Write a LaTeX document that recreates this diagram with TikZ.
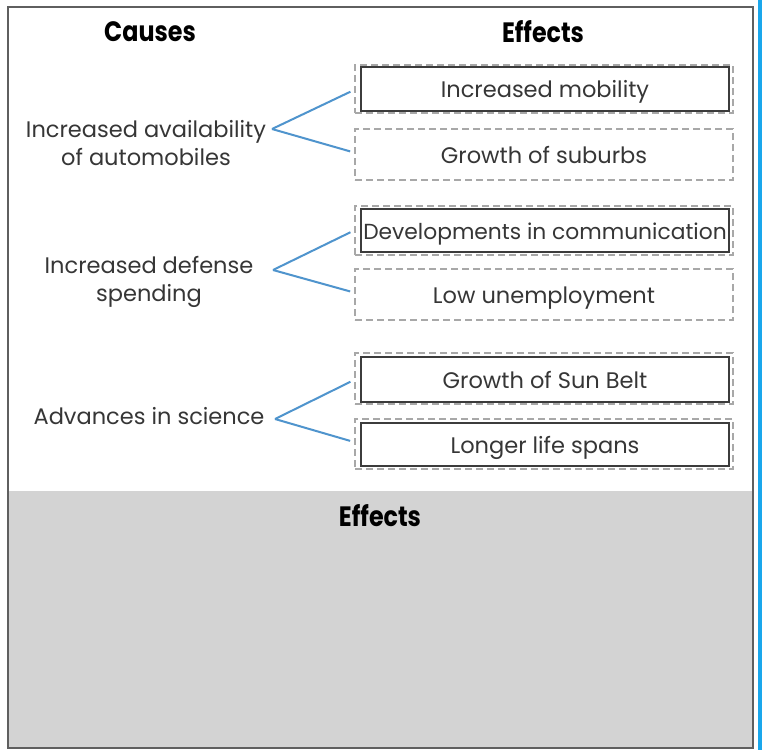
\documentclass[tikz,border=0pt]{standalone}
\usepackage{fontspec}
\setmainfont{Poppins}
\newfontfamily\headfont[FakeStretch=0.85]{Poppins}
\definecolor{framegray}{HTML}{5F5F5F}
\definecolor{dashgray}{HTML}{A8A8A8}
\definecolor{boxline}{HTML}{3C3C3C}
\definecolor{conn}{HTML}{4F94CD}
\definecolor{txt}{HTML}{363636}
\definecolor{panelgray}{HTML}{D3D3D3}
\definecolor{edgeblue}{HTML}{1AA7EC}
\begin{document}
\begin{tikzpicture}[x=1pt,y=-1pt,
  body/.style={font=\fontsize{22.5}{28}\selectfont, text=txt},
  head/.style={font=\headfont\bfseries\fontsize{28}{30}\selectfont, text=black},
  dbox/.style={draw=dashgray, dash pattern=on 7pt off 4pt, line width=2pt,
    minimum width=378pt, inner sep=0pt, text height=19pt, text depth=2pt, body},
  sbox/.style={draw=boxline, line width=1.4pt, minimum width=368pt, inner sep=0pt,
    text height=19pt, text depth=2pt, body},
  cause/.style={body, align=center, inner sep=0pt},
  link/.style={draw=conn, line width=2pt, shorten >=4pt}
]
\useasboundingbox (0,0) rectangle (762,750);
% background regions
\fill[white] (8,7) rectangle (753,491);
\fill[panelgray] (8,491) rectangle (753,747);
\draw[framegray, line width=2.2pt] (8,7) rectangle (753,748);
\fill[edgeblue] (757.5,0) rectangle (762,750);

% headings
\node[head] (hc) at (150,32) {Causes};
\node[head] (he) at (543,32) {Effects};
\node[head] (hb) at (380,516) {Effects};

% effects
\node[dbox, minimum height=48pt] (e1) at (544,89) {};
\node[sbox, minimum height=44pt] (s1) at (545,89) {Increased mobility};
\node[dbox, minimum height=51pt] (e2) at (544,154.5) {Growth of suburbs};
\node[dbox, minimum height=49pt] (e3) at (544,230.5) {};
\node[sbox, minimum height=43pt, font=\fontsize{21.8}{28}\selectfont] (s3) at (545,230.5) {Developments in communication};
\node[dbox, minimum height=51pt] (e4) at (544,294.5) {Low unemployment};
\node[dbox, minimum height=51pt] (e5) at (544,378.5) {};
\node[sbox, minimum height=45pt] (s5) at (545,379.5) {Growth of Sun Belt};
\node[dbox, minimum height=50pt] (e6) at (544,444) {};
\node[sbox, minimum height=43pt] (s6) at (545,444.5) {Longer life spans};

% causes
\node[cause] (c1) at (146,143) {Increased availability\\of automobiles};
\node[cause] (c2) at (149,282) {Increased defense\\spending};
\node[cause] (c3) at (149,416) {Advances in science};
\coordinate (v1) at (272,129);
\coordinate (v2) at (273,270);
\coordinate (v3) at (275,419);

% connectors
\draw[link] (v1) -- ([yshift=-1pt]e1.west);
\draw[link] (v1) -- ([yshift=2pt]e2.west);
\draw[link] (v2) -- (e3.west);
\draw[link] (v2) -- ([yshift=2pt]e4.west);
\draw[link] (v3) -- ([yshift=-1.5pt]e5.west);
\draw[link] (v3) -- ([yshift=2pt]e6.west);
\end{tikzpicture}
\end{document}
